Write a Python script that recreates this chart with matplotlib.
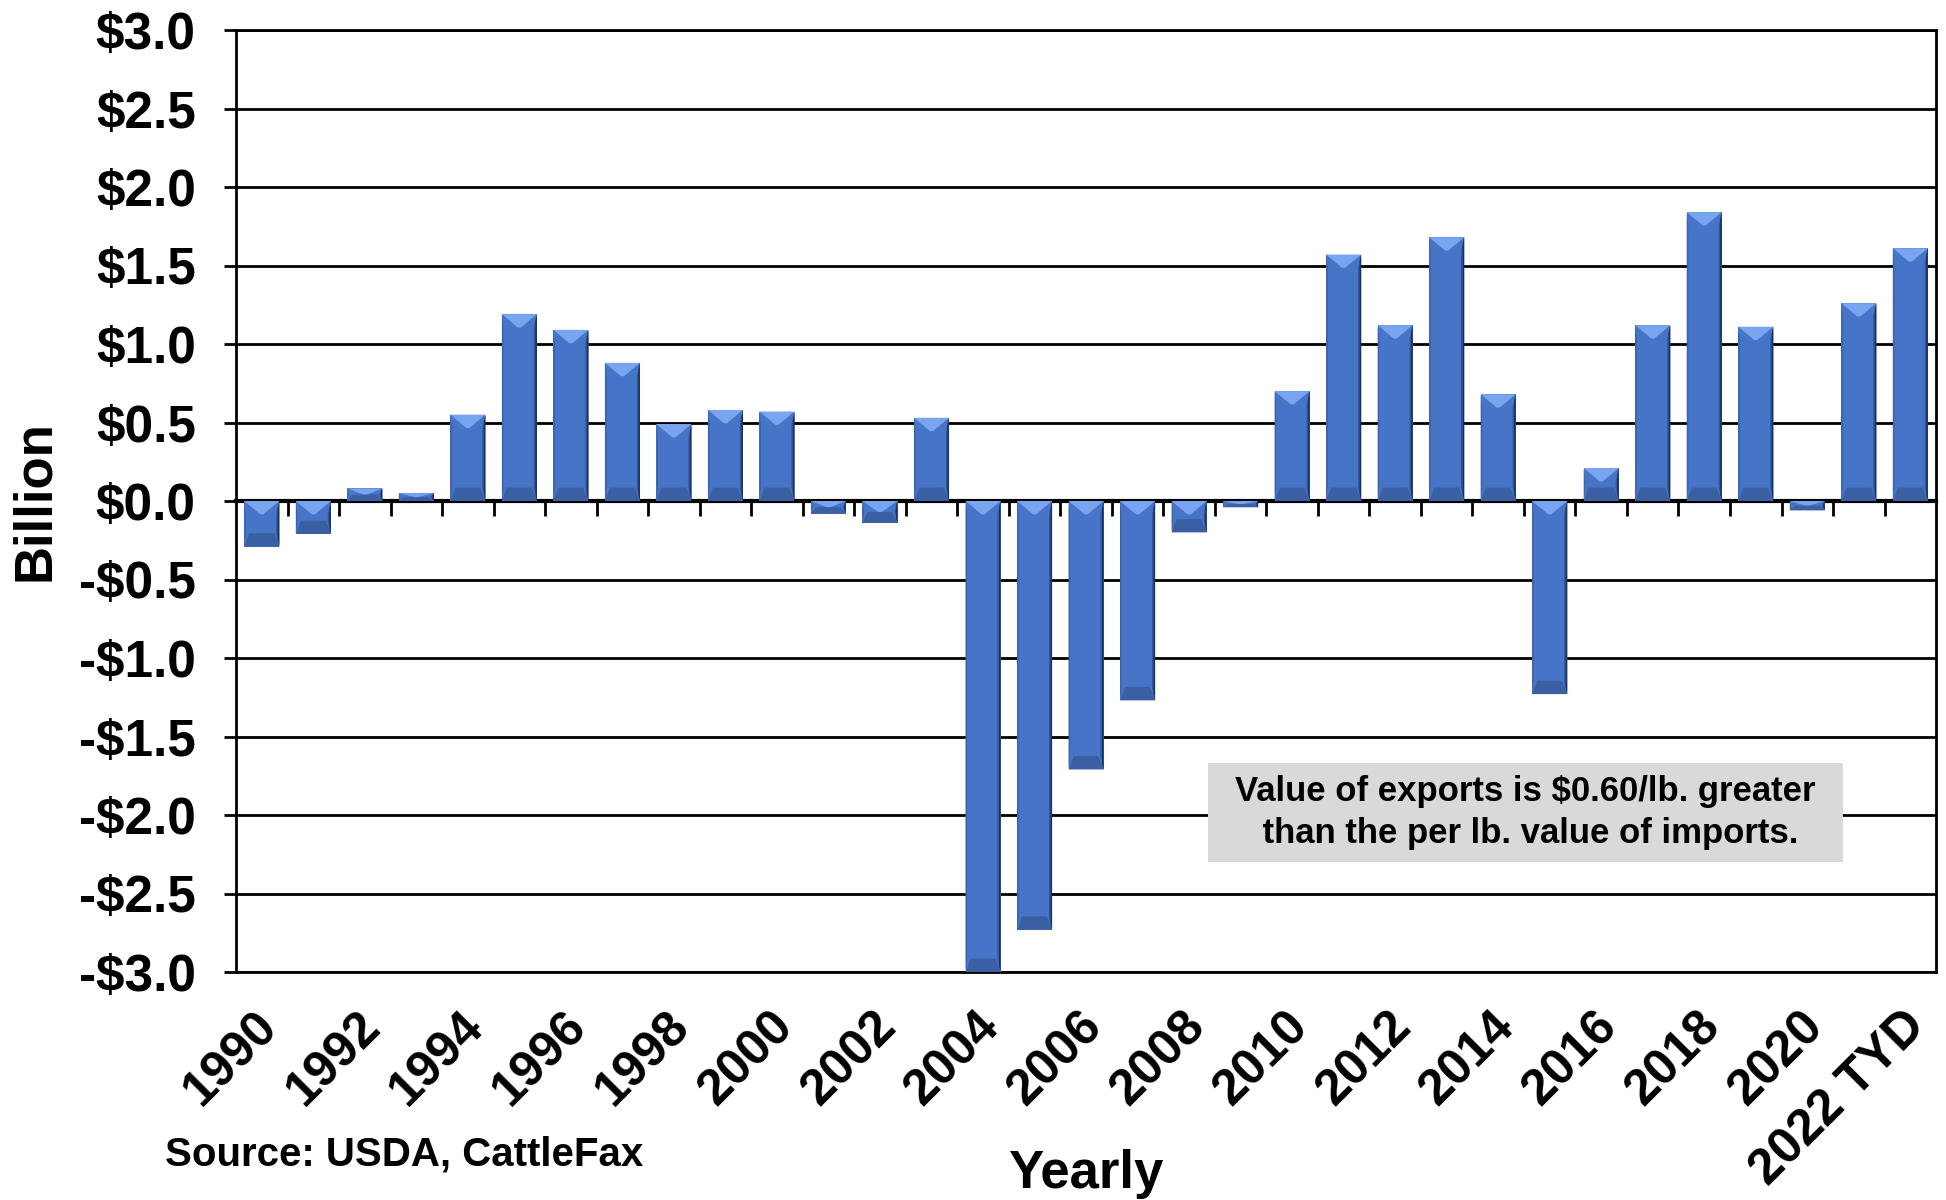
import matplotlib.pyplot as plt
from matplotlib.patches import Polygon, Rectangle
from matplotlib.transforms import ScaledTranslation
import numpy as np

plt.rcParams['font.family'] = ['Liberation Sans', 'DejaVu Sans']
plt.rcParams['font.weight'] = 'bold'

years = list(range(1990, 2023))
values = [-0.29, -0.21, 0.08, 0.05, 0.55, 1.19, 1.09, 0.88, 0.49, 0.58,
          0.57, -0.08, -0.14, 0.53, -3.0, -2.73, -1.71, -1.27, -0.20, -0.04,
          0.70, 1.57, 1.12, 1.68, 0.68, -1.23, 0.21, 1.12, 1.84, 1.11,
          -0.06, 1.26, 1.61]
tick_labels = ['1990', '1992', '1994', '1996', '1998', '2000', '2002', '2004',
               '2006', '2008', '2010', '2012', '2014', '2016', '2018', '2020',
               '2022 TYD']
y_ticks = [3.0, 2.5, 2.0, 1.5, 1.0, 0.5, 0.0, -0.5, -1.0, -1.5, -2.0, -2.5, -3.0]
y_tick_labels = ['$3.0', '$2.5', '$2.0', '$1.5', '$1.0', '$0.5', '$0.0',
                 '-$0.5', '-$1.0', '-$1.5', '-$2.0', '-$2.5', '-$3.0']
note = 'Value of exports is $0.60/lb. greater\n than the per lb. value of imports.'
source = 'Source: USDA, CattleFax'

BAR = '#4674c6'
LIGHT = '#78a4f0'
DARK = '#3a5fa3'
EDGE = '#1b325e'

fig = plt.figure(figsize=(19.46, 12), dpi=100)
ax = fig.add_axes([0.1213, 0.19, 0.8736, 0.785])

x = np.arange(len(years))
bars = ax.bar(x, values, width=0.68, color=BAR, zorder=3)

# bevel look on every bar
dy0 = 0.085
for b in bars:
    x0 = b.get_x()
    w = b.get_width()
    x1 = x0 + w
    y_a = b.get_y()
    y_b = y_a + b.get_height()
    top, bot = max(y_a, y_b), min(y_a, y_b)
    dy = min(dy0, (top - bot) / 2)
    xc = x0 + w / 2
    # sides
    ax.add_patch(Polygon([(x1 - 0.06, top - dy), (x1, top), (x1, bot), (x1 - 0.06, bot + dy)],
                         closed=True, color='#30569b', lw=0, zorder=4))
    ax.add_patch(Polygon([(x1 - 0.03, top - dy / 2), (x1, top), (x1, bot), (x1 - 0.03, bot + dy / 2)],
                         closed=True, color=EDGE, lw=0, zorder=4))
    ax.add_patch(Polygon([(x0, top), (x0 + 0.03, top - dy), (x0 + 0.03, bot + dy), (x0, bot)],
                         closed=True, color='#3a62ab', lw=0, zorder=4))
    # top chevron and bottom band
    ax.add_patch(Polygon([(x0, top), (x1, top), (xc + 0.03, top - dy), (xc - 0.03, top - dy)],
                         closed=True, color=LIGHT, lw=0, zorder=5))
    ax.add_patch(Polygon([(x0, bot), (x1, bot), (x1 - 0.1, bot + dy), (x0 + 0.1, bot + dy)],
                         closed=True, color=DARK, lw=0, zorder=5))

ax.set_xlim(-0.5, len(years) - 0.5)
ax.set_ylim(-3.0, 3.0)
ax.set_yticks(y_ticks)
ax.set_yticklabels(y_tick_labels, fontsize=37, fontweight='bold')
ax.tick_params(axis='y', direction='out', length=9, width=2, pad=20)
ax.grid(axis='y', color='black', lw=2, zorder=1)
ax.set_axisbelow(True)
for s in ax.spines.values():
    s.set_linewidth(2)
    s.set_zorder(2)

ax.set_xticks(x[::2])
ax.set_xticklabels(tick_labels, rotation=45, ha='right', va='top',
                   rotation_mode='anchor', fontsize=36, fontweight='bold')
ax.tick_params(axis='x', length=0, pad=22)
shift = ScaledTranslation(-8 / 100, 0, fig.dpi_scale_trans)
for lbl in ax.get_xticklabels():
    lbl.set_transform(lbl.get_transform() + shift)

# zero line with tick marks between categories
sec = ax.secondary_xaxis(0, transform=ax.transData)
sec.set_xticks(np.arange(0.5, len(years) - 1, 1))
sec.set_xticklabels([])
sec.tick_params(axis='x', direction='out', length=11, width=2)
sec.spines['bottom'].set_linewidth(3)

# note box
ax.add_patch(Rectangle((0.572, 0.117), 0.373, 0.105, transform=ax.transAxes,
                       facecolor='#d9d9d9', edgecolor='none', zorder=6))
ax.text(0.7585, 0.1695, note, transform=ax.transAxes, ha='center', va='center',
        fontsize=25, fontweight='bold', linespacing=1.35, zorder=7)

fig.text(0.018, 0.583, 'Billion', rotation=90, ha='center', va='center',
         fontsize=38, fontweight='bold')
fig.text(0.558, 0.022, 'Yearly', ha='center', va='center',
         fontsize=38, fontweight='bold')
fig.text(0.085, 0.038, source, ha='left', va='center',
         fontsize=29, fontweight='bold')

fig.savefig('out.png', dpi=100)
